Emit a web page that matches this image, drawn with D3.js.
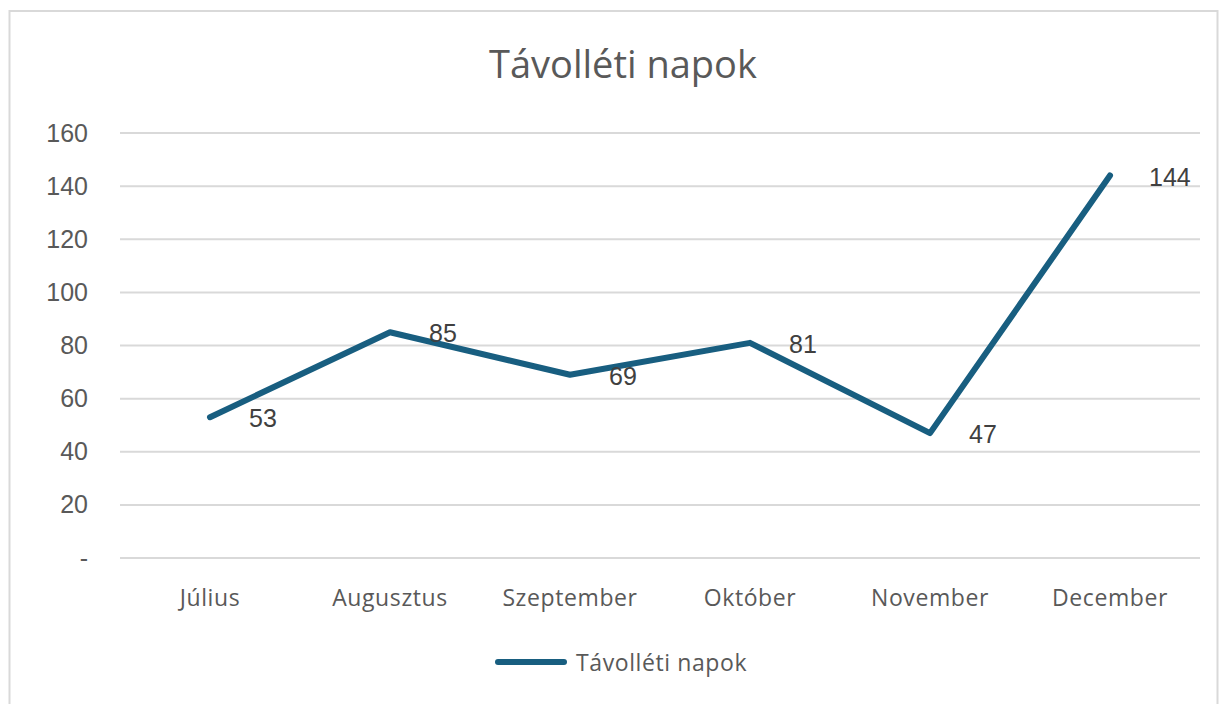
<!DOCTYPE html>
<html>
<head>
<meta charset="utf-8">
<script src="https://cdn.jsdelivr.net/npm/d3@7"></script>
<style>
  body { margin: 0; background: #fff; }
  svg { display: block; }
</style>
</head>
<body>
<div id="chart"></div>
<script>
// Data
const months = ["Július", "Augusztus", "Szeptember", "Október", "November", "December"];
const absenceDays = [53, 85, 69, 81, 47, 144];
const yTicks = [0, 20, 40, 60, 80, 100, 120, 140, 160];
const seriesName = "Távolléti napok";
const chartTitle = "Távolléti napok";

const W = 1225, H = 704;
const margin = { top: 133, right: 25, bottom: 146, left: 120 };
const plotW = 1200 - margin.left;
const plotH = 558 - margin.top;
const lineColor = "#185e80";
const textColor = "#595959";

const svg = d3.select("#chart")
  .append("svg")
  .attr("width", W)
  .attr("height", H);

// Chart border
svg.append("rect")
  .attr("x", 9.5).attr("y", 11)
  .attr("width", 1208).attr("height", 700)
  .attr("fill", "none")
  .attr("stroke", "#d9d9d9")
  .attr("stroke-width", 2);

// Title
svg.append("text")
  .attr("x", 623).attr("y", 63)
  .attr("text-anchor", "middle")
  .attr("dominant-baseline", "central")
  .attr("font-family", "'Open Sans', sans-serif")
  .attr("font-size", 38)
  .attr("fill", textColor)
  .text(chartTitle);

const g = svg.append("g")
  .attr("transform", "translate(" + margin.left + "," + margin.top + ")");

// Scales
const xScale = d3.scaleBand()
  .domain(months)
  .range([0, plotW]);

const yScale = d3.scaleLinear()
  .domain([0, 160])
  .range([plotH, 0]);

// Gridlines
g.selectAll("line.grid")
  .data(yTicks)
  .enter()
  .append("line")
  .attr("class", "grid")
  .attr("x1", 0).attr("x2", plotW)
  .attr("y1", function(d) { return yScale(d); })
  .attr("y2", function(d) { return yScale(d); })
  .attr("stroke", "#d9d9d9")
  .attr("stroke-width", 2);

// Y axis
const yAxis = d3.axisLeft(yScale)
  .tickValues(yTicks)
  .tickSize(0)
  .tickPadding(32)
  .tickFormat(function(d) { return d === 0 ? "-" : d; });

g.append("g")
  .call(yAxis)
  .call(function(a) { a.select(".domain").remove(); })
  .selectAll("text")
  .attr("font-family", "'Liberation Sans', Arial, sans-serif")
  .attr("font-size", 25)
  .attr("fill", textColor);

// X axis
const xAxis = d3.axisBottom(xScale)
  .tickSize(0)
  .tickPadding(32);

g.append("g")
  .attr("transform", "translate(0," + plotH + ")")
  .call(xAxis)
  .call(function(a) { a.select(".domain").remove(); })
  .selectAll("text")
  .attr("font-family", "'Open Sans', sans-serif")
  .attr("font-size", 23)
  .attr("letter-spacing", 0.6)
  .attr("fill", textColor);

// Line
const line = d3.line()
  .x(function(d, i) { return xScale(months[i]) + xScale.bandwidth() / 2; })
  .y(function(d) { return yScale(d); });

g.append("path")
  .datum(absenceDays)
  .attr("d", line)
  .attr("fill", "none")
  .attr("stroke", lineColor)
  .attr("stroke-width", 6)
  .attr("stroke-linejoin", "round")
  .attr("stroke-linecap", "round");

// Data labels
g.selectAll("text.label")
  .data(absenceDays)
  .enter()
  .append("text")
  .attr("class", "label")
  .attr("x", function(d, i) { return xScale(months[i]) + xScale.bandwidth() / 2 + 39; })
  .attr("y", function(d) { return yScale(d) + 1; })
  .attr("dominant-baseline", "central")
  .attr("font-family", "'Liberation Sans', Arial, sans-serif")
  .attr("font-size", 25)
  .attr("fill", "#404040")
  .text(function(d) { return d; });

// Legend
const legend = svg.append("g");
legend.append("line")
  .attr("x1", 498).attr("x2", 564)
  .attr("y1", 662).attr("y2", 662)
  .attr("stroke", lineColor)
  .attr("stroke-width", 6)
  .attr("stroke-linecap", "round");
legend.append("text")
  .attr("x", 576).attr("y", 662)
  .attr("dominant-baseline", "central")
  .attr("font-family", "'Open Sans', sans-serif")
  .attr("font-size", 23)
  .attr("letter-spacing", 0.6)
  .attr("fill", textColor)
  .text(seriesName);
</script>
</body>
</html>
